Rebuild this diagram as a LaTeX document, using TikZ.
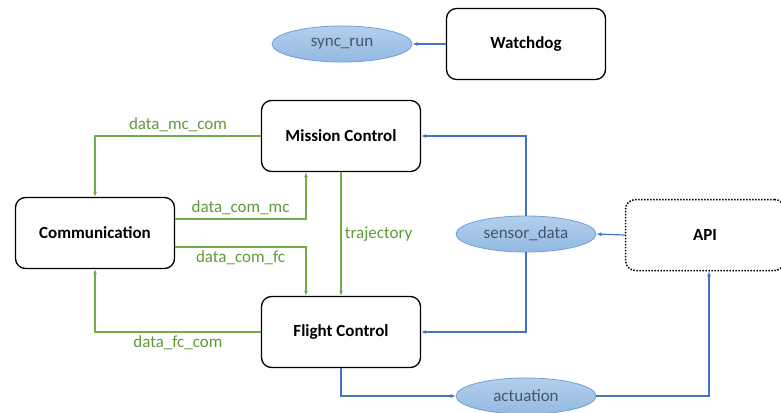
\documentclass[tikz,border=0pt]{standalone}
\usepackage{fontspec}
\setmainfont{Carlito}
\usetikzlibrary{arrows.meta, shapes.geometric}
\definecolor{flowgreen}{HTML}{70AD47}
\definecolor{labelgreen}{HTML}{5E9A3C}
\definecolor{flowblue}{HTML}{4472C4}
\definecolor{sigborder}{HTML}{6FA0D8}
\definecolor{sigtop}{HTML}{B4CFEC}
\definecolor{sigbottom}{HTML}{93B9E2}
\definecolor{sigtext}{HTML}{44546A}
\begin{document}
\begin{tikzpicture}[x=1pt, y=-1pt,
    block/.style={draw, line width=1.3pt, rounded corners=10pt, minimum width=159pt, minimum height=71pt, font=\fontsize{17}{20}\selectfont\bfseries},
    signal/.style={ellipse, draw=sigborder, line width=0.8pt, top color=sigtop, bottom color=sigbottom, minimum width=140pt, minimum height=36pt, inner sep=0pt, text=sigtext, font=\fontsize{17}{20}\selectfont},
    gflow/.style={draw=flowgreen, line width=1.2pt, -{Latex[length=5pt,width=4pt]}},
    bflow/.style={draw=flowblue, line width=1.2pt, -{Latex[length=5pt,width=4pt]}},
    glabel/.style={text=labelgreen, font=\fontsize{17}{20}\selectfont}]
\useasboundingbox (0,0) rectangle (781,412);
\node[block] (wd) at (526,44) {Watchdog};
\node[signal] (sync) at (342,44) {sync\_run};
\node[block] (mc) at (341,136) {Mission Control};
\node[block] (com) at (95,233) {Communication};
\node[block] (fc) at (341,332) {Flight Control};
\node[block, line width=1.5pt, dash pattern=on 1.5pt off 1.5pt] (api) at (705,235) {API};
\node[signal] (sensor) at (526,234) {sensor\_data};
\node[signal] (act) at (526,396) {actuation};
\draw[gflow] (mc.west) -| node[pos=0.25, above, glabel] {data\_mc\_com} (com.north);
\draw[gflow] ([yshift=14pt]com.east) -| node[pos=0.25, above, glabel] {data\_com\_mc} ([xshift=-35pt]mc.south);
\draw[gflow] ([yshift=-14pt]com.east) -| node[pos=0.25, below, glabel] {data\_com\_fc} ([xshift=-35pt]fc.north);
\draw[gflow] (mc.south) -- node[right, glabel] {trajectory} (fc.north);
\draw[gflow] (fc.west) -| node[pos=0.25, below, glabel] {data\_fc\_com} (com.south);
\draw[bflow] (wd.west) -- (sync.east);
\draw[bflow] (sensor.north) |- (mc.east);
\draw[bflow] (sensor.south) |- (fc.east);
\draw[bflow] (api.west) -- (sensor.east);
\draw[bflow] (fc.south) |- (act.west);
\draw[bflow] (act.east) -| ([xshift=4pt]api.south);
\end{tikzpicture}
\end{document}
